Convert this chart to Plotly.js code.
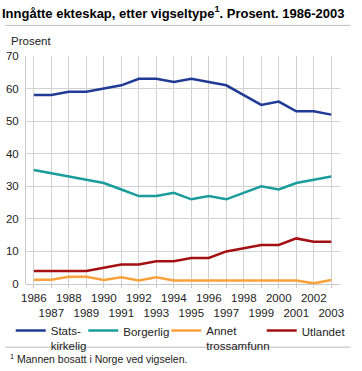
<!DOCTYPE html>
<html>
<head>
<meta charset="utf-8">
<script src="https://cdn.plot.ly/plotly-3.0.1.min.js"></script>
<style>
html,body{margin:0;padding:0;background:#fff;}
#chart{width:362px;height:371px;}
</style>
</head>
<body>
<div id="chart"></div>
<script>
const years = [1986,1987,1988,1989,1990,1991,1992,1993,1994,1995,1996,1997,1998,1999,2000,2001,2002,2003];
const statskirkelig = [58,58,59,59,60,61,63,63,62,63,62,61,58,55,56,53,53,52];
const borgerlig = [35,34,33,32,31,29,27,27,28,26,27,26,28,30,29,31,32,33];
const annet = [1.3,1.3,2.2,2.2,1.2,2.1,1.1,2.1,1.1,1.1,1.1,1.1,1.1,1.1,1.1,1.1,0.2,1.2];
const utlandet = [4,4,4,4,5,6,6,7,7,8,8,10,11,12,12,14,13,13];
const seriesNames = ["Stats-<br>kirkelig","Borgerlig","Annet<br>trossamfunn","Utlandet"];
const seriesColors = ["#1f3b95","#1a9c9c","#f9a23c","#a30f12"];
const tickText = years.map((y,i)=> i%2===0 ? String(y) : "<br>"+y);

const FONT = "Liberation Sans, Arial, sans-serif";
const W = 362, H = 371, L = 22, R = 351, T = 56, B = 287;
const px2x = p => (p - L)/(R - L);
const py2y = p => (B - p)/(B - T);

const values = [statskirkelig, borgerlig, annet, utlandet];
const legendX = [12, 88, 175, 275];
const traces = values.map((v,i)=>({
  x: years, y: v, type:"scatter", mode:"lines", name: seriesNames[i],
  line:{color:seriesColors[i], width:2.5},
  legend: i===0 ? "legend" : "legend"+(i+1),
  hoverinfo:"skip"
}));

const legendBase = {
  orientation:"v", xanchor:"left", yanchor:"top", valign:"top",
  font:{family:FONT, size:11.5, color:"#222"}, bgcolor:"rgba(0,0,0,0)",
  tracegroupgap:0, itemwidth:30
};
const layout = {
  width:W, height:H,
  margin:{l:L, r:W-R, t:T, b:H-B, pad:0},
  paper_bgcolor:"#fff", plot_bgcolor:"#fff",
  showlegend:true,
  title:{text:"Inngåtte ekteskap, etter vigseltype<sup>1</sup>. Prosent. 1986-2003",
    x:2/W, xref:"container", xanchor:"left", y:1-13/H, yref:"container", yanchor:"middle",
    font:{family:FONT, size:13, color:"#000", weight:"bold"}},
  xaxis:{
    range:[1985.55, 2003.5], tickvals:years, ticktext:tickText, tickangle:0,
    showgrid:true, gridcolor:"#d2d2d2", gridwidth:1,
    ticks:"outside", ticklen:3, tickcolor:"#c8c8c8",
    tickfont:{family:FONT, size:11.5, color:"#222"},
    zeroline:false, showline:false, fixedrange:true
  },
  yaxis:{
    range:[0,70], tickvals:[0,10,20,30,40,50,60,70],
    showgrid:true, gridcolor:"#d2d2d2", gridwidth:1,
    showline:true, linecolor:"#c8c8c8", linewidth:1,
    ticks:"", ticklabelstandoff:4,
    tickfont:{family:FONT, size:11.5, color:"#222"},
    zeroline:true, zerolinecolor:"#c8c8c8", zerolinewidth:1, fixedrange:true
  },
  legend: Object.assign({}, legendBase, {x:px2x(legendX[0]-6), y:py2y(320)}),
  legend2: Object.assign({}, legendBase, {x:px2x(legendX[1]-6), y:py2y(320)}),
  legend3: Object.assign({}, legendBase, {x:px2x(legendX[2]-6), y:py2y(320)}),
  legend4: Object.assign({}, legendBase, {x:px2x(legendX[3]-6), y:py2y(320)}),
  shapes:[
    {type:"line", xref:"paper", yref:"paper", x0:px2x(0), x1:px2x(W), y0:py2y(25), y1:py2y(25), line:{color:"#bdbdbd", width:1}},
    {type:"line", xref:"paper", yref:"paper", x0:px2x(0), x1:px2x(W), y0:py2y(351), y1:py2y(351), line:{color:"#bdbdbd", width:1}}
  ],
  annotations:[
    {text:"Prosent", xref:"paper", yref:"paper", x:px2x(4), y:py2y(41), xanchor:"left", yanchor:"middle", showarrow:false,
     font:{family:FONT, size:11.5, color:"#222"}},
    {text:"<sup>1</sup> Mannen bosatt i Norge ved vigselen.", xref:"paper", yref:"paper", x:px2x(3), y:py2y(362), xanchor:"left", yanchor:"middle", showarrow:false,
     font:{family:FONT, size:10.5, color:"#222"}}
  ]
};
Plotly.newPlot("chart", traces, layout, {displayModeBar:false, staticPlot:true});
</script>
</body>
</html>
